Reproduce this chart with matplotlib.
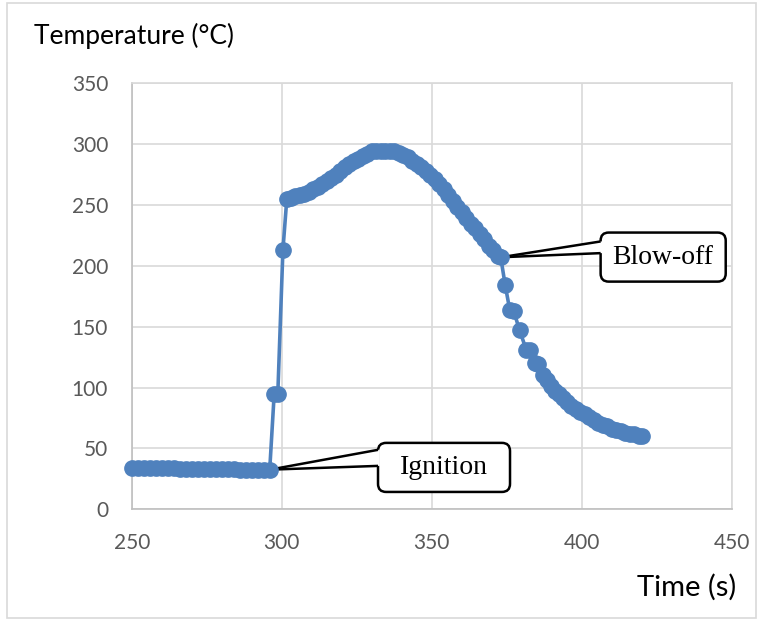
import matplotlib
matplotlib.use("Agg")
import matplotlib.pyplot as plt
from matplotlib.patches import FancyBboxPatch, Polygon, Rectangle
from matplotlib.lines import Line2D

# thermocouple reading over the run (s, degC)
time_s = [250, 252, 254, 256, 258, 260, 262, 264, 266, 268, 270, 272,
          274, 276, 278, 280, 282, 284, 286, 288, 290, 292, 294, 296,
          297.5, 298.7, 300.4, 301.7, 303, 304.5, 306, 307.5, 309, 310.5,
          312, 313.5, 315, 316.5, 318, 319.5, 321, 322.5, 324, 325.5, 327,
          328.5, 330, 331.5, 333, 334.5, 336, 337.5, 339, 340.5, 342, 343.5,
          345, 346.5, 348, 349.5, 351, 352.5, 354, 355.5, 357, 358.5, 360,
          361.5, 363, 364.5, 366, 367.5, 369, 370.5, 372, 373, 374.5, 376,
          377.3, 379.3, 381.5, 382.7, 384.3, 385.5, 387, 388.5, 389.7, 391,
          392.3, 393.7, 395, 396.5, 398, 399.5, 401, 402.5, 404, 405.5, 407,
          408.5, 410, 411.5, 413, 414.5, 416, 417.5, 419, 420]
temp_c = [34, 34, 34, 34, 33.5, 33.5, 33.5, 33.5, 33, 33, 33, 33,
          33, 33, 33, 33, 33, 33, 32.5, 32.5, 32.5, 32.5, 32.5, 32.5,
          95, 95, 213, 255, 256, 257, 258, 259, 261, 263,
          265, 267, 270, 272, 275, 278, 281, 284, 286, 288, 290,
          292, 294, 294.5, 294.5, 294.5, 294.5, 294, 293, 291, 289, 286,
          284, 281, 278, 275, 271, 267, 263, 258, 253, 248, 244,
          239, 234, 231, 226, 222, 216, 213, 208, 207, 184, 164,
          163, 147, 131, 131, 120, 119, 110, 106, 101, 97,
          95, 91, 88, 85, 82, 80, 78, 76, 73, 71, 69,
          68, 66, 65, 64, 63, 62, 61.5, 60.5, 60]

x_ticks = [250, 300, 350, 400, 450]
y_ticks = [0, 50, 100, 150, 200, 250, 300, 350]

ignition_idx = 23
blowoff_idx = 75

BLUE = "#4F81BD"
GRID = "#D9D9D9"
TICK = "#595959"

fig = plt.figure(figsize=(7.57, 6.21), dpi=100)
ax = fig.add_axes([0.174, 0.180, 0.7926, 0.686])

ax.plot(time_s, temp_c, color=BLUE, lw=2.6, marker="o", ms=11,
        mfc=BLUE, mec=BLUE, zorder=10, clip_on=False)

ax.set_xlim(250, 450)
ax.set_ylim(0, 350)
ax.set_xticks(x_ticks)
ax.set_yticks(y_ticks)
ax.grid(True, color=GRID, lw=1.2, zorder=0)
ax.set_axisbelow(True)
for side in ["top", "right"]:
    ax.spines[side].set_color(GRID)
    ax.spines[side].set_linewidth(1.2)
for side in ["left", "bottom"]:
    ax.spines[side].set_color("#BFBFBF")
    ax.spines[side].set_linewidth(1.2)
ax.tick_params(length=0, pad=17, labelsize=15, labelcolor=TICK)
for lab in ax.get_xticklabels() + ax.get_yticklabels():
    lab.set_family("Lato")

fig.text(34 / 757, 1 - 36 / 621, "Temperature (\u00b0C)", fontsize=19,
         family="Lato", va="center", ha="left")
fig.text(736 / 757, 1 - 587 / 621, "Time (s)", fontsize=21,
         family="Lato", va="center", ha="right")

# light frame round the whole chart
fig.patches.append(Rectangle((7 / 757, 3 / 621), 749 / 757, 615 / 621,
                             transform=fig.transFigure, fill=False,
                             ec=GRID, lw=1.2))

# pixels per data unit, used to keep the box corners round
p0 = ax.transData.transform((250, 0))
p1 = ax.transData.transform((260, 10))
aspect = ((p1[0] - p0[0]) / 10) / ((p1[1] - p0[1]) / 10)


def callout(idx, box, base, text):
    x0, x1, y0, y1 = box
    tip = (time_s[idx], temp_c[idx])
    patch = FancyBboxPatch((x0, y0), x1 - x0, y1 - y0,
                           boxstyle="round,pad=0,rounding_size=2.7",
                           mutation_aspect=aspect, fc="white", ec="black",
                           lw=1.8, zorder=5)
    ax.add_patch(patch)
    ya, yb = base
    ax.add_patch(Polygon([tip, (x0, ya), (x0 + 0.6, ya), (x0 + 0.6, yb),
                          (x0, yb)], closed=True, fc="white", ec="none",
                         zorder=6))
    for yy in (ya, yb):
        ax.add_line(Line2D([tip[0], x0], [tip[1], yy], color="black",
                           lw=1.8, zorder=6, solid_capstyle="butt"))
    ax.text((x0 + x1) / 2, (y0 + y1) / 2, text, ha="center", va="center",
            fontsize=20, family="Liberation Serif", zorder=7)


callout(ignition_idx, (332.1, 376.1, 14.2, 54.5), (48.8, 35.6), "Ignition")
callout(blowoff_idx, (406.3, 448.0, 187.0, 227.3), (220.0, 210.4), "Blow-off")

fig.savefig("out.png", dpi=100)
